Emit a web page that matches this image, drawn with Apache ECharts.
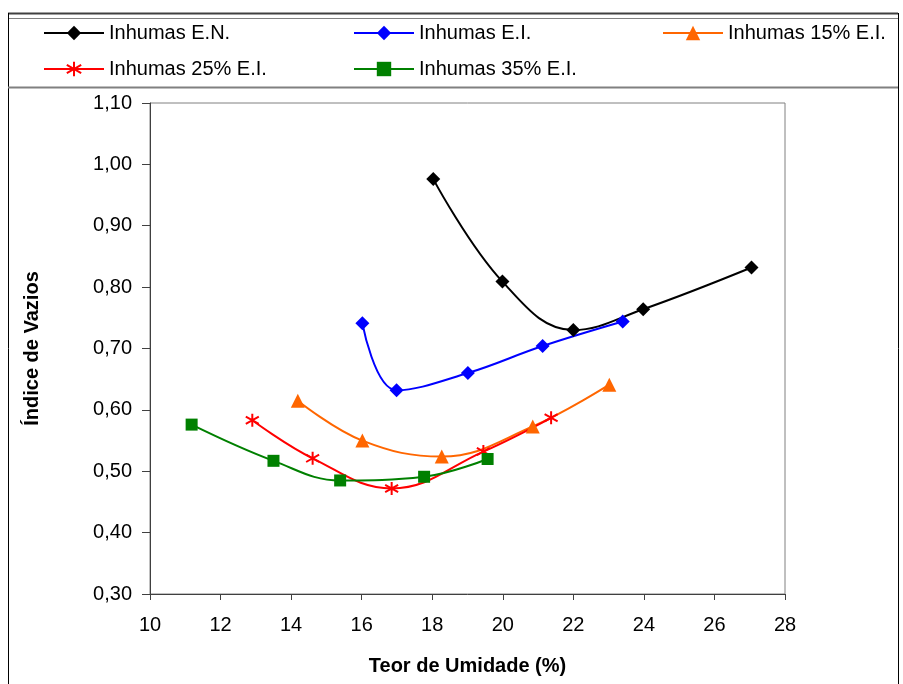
<!DOCTYPE html>
<html>
<head>
<meta charset="utf-8">
<script src="https://cdn.jsdelivr.net/npm/echarts@6/dist/echarts.min.js"></script>
<style>
html,body{margin:0;padding:0;background:#fff;}
#chart{width:903px;height:684px;}
</style>
</head>
<body>
<div id="chart"></div>
<script>
// ---- data ----
const seriesNames = ['Inhumas E.N.', 'Inhumas E.I.', 'Inhumas 15% E.I.', 'Inhumas 25% E.I.', 'Inhumas 35% E.I.'];
const enData  = [[18.03, 0.976], [19.99, 0.809], [22.00, 0.730], [23.98, 0.764], [27.05, 0.832]];
const eiData  = [[16.02, 0.741], [16.99, 0.632], [19.01, 0.660], [21.13, 0.704], [23.40, 0.744]];
const p15Data = [[14.19, 0.615], [16.02, 0.550], [18.27, 0.524], [20.85, 0.573], [23.02, 0.641]];
const p25Data = [[12.90, 0.583], [14.61, 0.521], [16.85, 0.472], [19.45, 0.532], [21.37, 0.587]];
const p35Data = [[11.18, 0.576], [13.50, 0.517], [15.39, 0.485], [17.77, 0.491], [19.57, 0.520]];
const xTicks = [10, 12, 14, 16, 18, 20, 22, 24, 26, 28];
const yTicks = [0.30, 0.40, 0.50, 0.60, 0.70, 0.80, 0.90, 1.00, 1.10];
const xTitle = 'Teor de Umidade (%)';
const yTitle = 'Índice de Vazios';

const FONT = "'Liberation Sans', Arial, sans-serif";
const starPath = 'path://M5,0L5,10M0.8,2.2L9.2,7.8M0.8,7.8L9.2,2.2';

function mkSeries(name, data, color, symbol, size, extra) {
  return Object.assign({
    name: name, type: 'line', data: data, smooth: 0.4,
    symbol: symbol, symbolSize: size,
    lineStyle: { color: color, width: 2 },
    itemStyle: { color: color },
    z: 3
  }, extra || {});
}

const chart = echarts.init(document.getElementById('chart'));
const legendBase = {
  itemWidth: 60, itemHeight: 18, itemGap: 0,
  textStyle: { fontFamily: FONT, fontSize: 20, color: '#000' },
  padding: 0
};
chart.setOption({
  animation: false,
  backgroundColor: '#fff',
  legend: [
    Object.assign({ data: [seriesNames[0]], left: 43, top: 23 }, legendBase),
    Object.assign({ data: [seriesNames[1]], left: 353, top: 23 }, legendBase),
    Object.assign({ data: [seriesNames[2]], left: 662, top: 23 }, legendBase),
    Object.assign({ data: [seriesNames[3]], left: 43, top: 59 }, legendBase),
    Object.assign({ data: [seriesNames[4]], left: 353, top: 59 }, legendBase)
  ],
  grid: { left: 150, right: 118, top: 103, bottom: 90, show: true, borderColor: '#808080', borderWidth: 1 },
  xAxis: {
    type: 'value', min: xTicks[0], max: xTicks[xTicks.length - 1], interval: xTicks[1] - xTicks[0],
    name: xTitle, nameLocation: 'middle', nameGap: 62,
    nameTextStyle: { fontFamily: FONT, fontSize: 20, fontWeight: 'bold', color: '#000' },
    axisLine: { show: true, lineStyle: { color: '#404040', width: 1 } },
    axisTick: { show: true, length: 6, lineStyle: { color: '#404040' } },
    axisLabel: { fontFamily: FONT, fontSize: 20, color: '#000', margin: 21 },
    splitLine: { show: false }
  },
  yAxis: {
    type: 'value', min: yTicks[0], max: yTicks[yTicks.length - 1], interval: 0.1,
    name: yTitle, nameLocation: 'middle', nameGap: 108,
    nameTextStyle: { fontFamily: FONT, fontSize: 20, fontWeight: 'bold', color: '#000' },
    axisLine: { show: true, lineStyle: { color: '#404040', width: 1 } },
    axisTick: { show: true, length: 8, lineStyle: { color: '#404040' } },
    axisLabel: { fontFamily: FONT, fontSize: 20, color: '#000', margin: 18,
      formatter: v => v.toFixed(2).replace('.', ',') },
    splitLine: { show: false }
  },
  graphic: [
    { type: 'line', shape: { x1: 8, y1: 13.5, x2: 898, y2: 13.5 }, style: { stroke: '#404040', lineWidth: 2 } },
    { type: 'line', shape: { x1: 8, y1: 18.5, x2: 898, y2: 18.5 }, style: { stroke: '#808080', lineWidth: 1 } },
    { type: 'line', shape: { x1: 8.5, y1: 13, x2: 8.5, y2: 684 }, style: { stroke: '#000', lineWidth: 1 } },
    { type: 'line', shape: { x1: 898.5, y1: 13, x2: 898.5, y2: 684 }, style: { stroke: '#000', lineWidth: 1 } },
    { type: 'line', shape: { x1: 8, y1: 87.5, x2: 898, y2: 87.5 }, style: { stroke: '#808080', lineWidth: 2 } }
  ],
  series: [
    mkSeries(seriesNames[0], enData, '#000000', 'diamond', 14),
    mkSeries(seriesNames[1], eiData, '#0000FF', 'diamond', 14),
    mkSeries(seriesNames[2], p15Data, '#FF6600', 'triangle', 14),
    mkSeries(seriesNames[3], p25Data, '#FF0000', starPath, 13,
      { itemStyle: { color: 'none', borderColor: '#FF0000', borderWidth: 2 } }),
    mkSeries(seriesNames[4], p35Data, '#008000', 'rect', 12)
  ]
});
</script>
</body>
</html>
